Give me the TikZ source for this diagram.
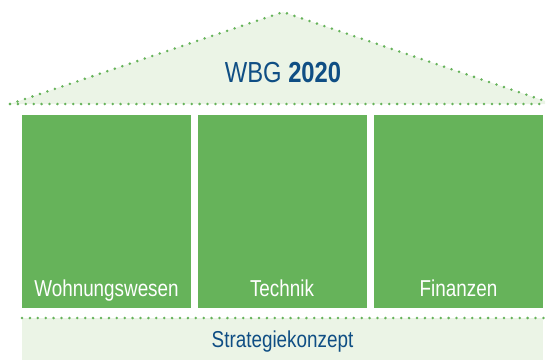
\documentclass[tikz,border=0pt]{standalone}
\usepackage{fontspec}
\setmainfont{Liberation Sans}[FakeStretch=0.82]
\usepackage{tikz}
\usetikzlibrary{positioning}
\usetikzlibrary{calc}

\definecolor{housegreen}{HTML}{66B35A}
\definecolor{lightgreen}{HTML}{EBF4E6}
\definecolor{textblue}{HTML}{0F4E84}

\begin{document}
\begin{tikzpicture}[x=1pt,y=1pt,
  dots/.style={housegreen, line width=2.8pt, line cap=round, dash pattern=on 0pt off 7.9pt},
  pillar/.style={fill=housegreen, minimum width=169pt, minimum height=193pt, inner sep=0pt},
  pillarlabel/.style={white, anchor=base, inner sep=0pt, font=\fontsize{23}{27}\selectfont},
  bluelabel/.style={textblue, anchor=base, inner sep=0pt}]
\useasboundingbox (0,0) rectangle (549,360);
% roof
\coordinate (roofleft) at (10,256);
\coordinate (roofright) at (545,259);
\coordinate (roofapex) at (283,348);
\coordinate (baseright) at (545,256);
\fill[lightgreen] (roofleft) -- (roofapex) -- (roofright) -- (baseright) -- cycle;
\draw[dots] (roofleft) -- (roofapex) -- (roofright);
\draw[dots] (roofleft) -- (baseright);
\node[bluelabel, font=\fontsize{29}{34}\selectfont] (title) at (283,278) {WBG \textbf{2020}};
% pillars
\node[pillar] (wohnen) at (106.5,148.5) {};
\node[pillar] (technik) at (282,148.5) {};
\node[pillar] (finanzen) at (458.5,148.5) {};
\foreach \p/\t in {wohnen/Wohnungswesen, technik/Technik, finanzen/Finanzen}
\node[pillarlabel] (\p label) at ($(\p.south)+(0,12)$) {\t};
% foundation
\fill[lightgreen] (22,0) rectangle (543,42);
\coordinate (footleft) at (22,42);
\coordinate (footright) at (546,42);
\draw[dots] (footleft) -- (footright);
\node[bluelabel, font=\fontsize{23}{27}\selectfont] (strategie) at (282.5,13) {Strategiekonzept};
\end{tikzpicture}
\end{document}
